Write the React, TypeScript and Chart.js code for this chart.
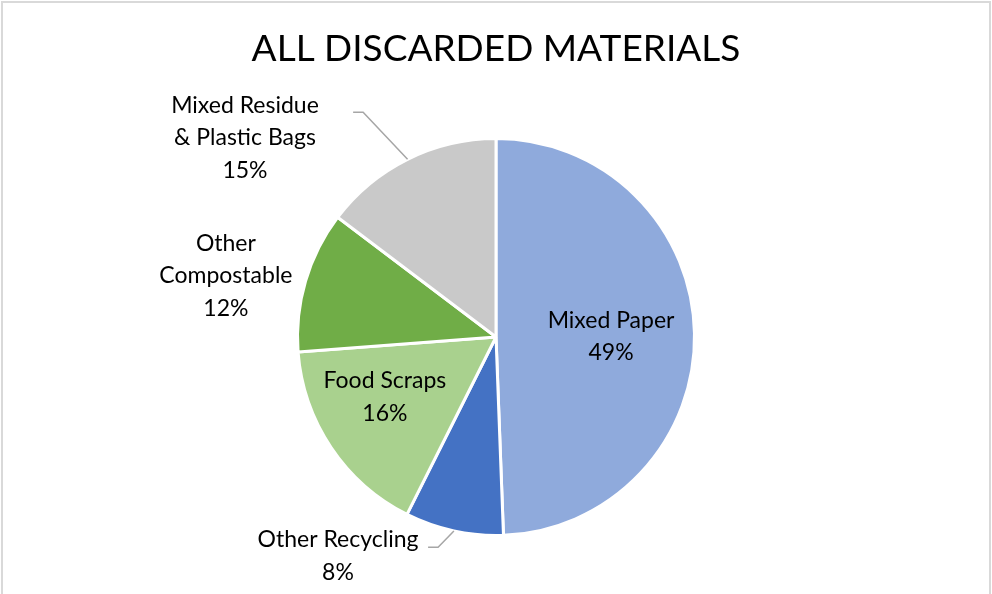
import React, { useEffect, useRef } from "react";
import { Chart, registerables } from "chart.js";

Chart.register(...registerables);

const TITLE = "ALL DISCARDED MATERIALS";
const categories = [
  "Mixed Paper",
  "Other Recycling",
  "Food Scraps",
  "Other Compostable",
  "Mixed Residue & Plastic Bags",
];
const labelLines = [
  ["Mixed Paper"],
  ["Other Recycling"],
  ["Food Scraps"],
  ["Other", "Compostable"],
  ["Mixed Residue", "& Plastic Bags"],
];
const shares = [49.4, 8.0, 16.4, 11.5, 14.7];
const colors = ["#8FAADC", "#4472C4", "#A9D18E", "#70AD47", "#C9C9C9"];

// label block centre: screen angle (deg) and distance (multiples of radius)
const labelAngle = [-0.25, 125.8, 151.6, 192.8, 218.4];
const labelDist = [0.584, 1.371, 0.641, 1.406, 1.626];
// leader elbows (null = none)
const leaderAngle = [null, 105.4, null, null, 239.4];
const leaderDist = [null, 1.107, null, null, 1.325];

const FONT = "Lato, 'Noto Sans', sans-serif";

const labelPlugin = {
  id: "pieLabels",
  beforeDraw(chart: any) {
    const ctx = chart.ctx;
    ctx.save();
    ctx.fillStyle = "#ffffff";
    ctx.fillRect(0, 0, chart.width, chart.height);
    ctx.strokeStyle = "#D9D9D9";
    ctx.lineWidth = 2;
    ctx.strokeRect(2, 2, chart.width - 4, chart.height + 50);
    ctx.restore();
  },
  afterDraw(chart: any) {
    const ctx = chart.ctx;
    const meta = chart.getDatasetMeta(0);
    const arcs = meta.data;
    if (!arcs.length) return;
    const cx = arcs[0].x;
    const cy = arcs[0].y;
    const r = arcs[0].outerRadius - 1.5;
    ctx.save();
    // title
    ctx.fillStyle = "#000000";
    ctx.font = `400 37px ${FONT}`;
    ctx.textAlign = "center";
    ctx.textBaseline = "middle";
    ctx.fillText(TITLE, chart.width / 2, 49);

    ctx.font = `400 23px ${FONT}`;
    const lh = 32.5;
    arcs.forEach((arc: any, i: number) => {
      const total = shares.reduce((a, b) => a + b, 0);
      const pct = Math.round((shares[i] / total) * 100) + "%";
      const lines = [...labelLines[i], pct];
      const a = (labelAngle[i] * Math.PI) / 180;
      const bx = cx + Math.cos(a) * r * labelDist[i];
      const by = cy + Math.sin(a) * r * labelDist[i];
      lines.forEach((t, k) => {
        const y = by + (k - (lines.length - 1) / 2) * lh;
        ctx.fillText(t, bx, y);
      });
      if (leaderAngle[i] !== null) {
        const mid = (arc.startAngle + arc.endAngle) / 2;
        const sx = cx + Math.cos(mid) * (r + 1.5);
        const sy = cy + Math.sin(mid) * (r + 1.5);
        const ea = ((leaderAngle[i] as number) * Math.PI) / 180;
        const ex = cx + Math.cos(ea) * r * (leaderDist[i] as number);
        const ey = cy + Math.sin(ea) * r * (leaderDist[i] as number);
        ctx.strokeStyle = "#A6A6A6";
        ctx.lineWidth = 1.5;
        ctx.beginPath();
        ctx.moveTo(sx, sy);
        ctx.lineTo(ex, ey);
        ctx.lineTo(ex - 10, ey);
        ctx.stroke();
      }
    });
    ctx.restore();
  },
};

export default function App() {
  const ref = useRef<HTMLCanvasElement | null>(null);
  useEffect(() => {
    document.body.style.margin = "0";
    if (!ref.current) return;
    const chart = new Chart(ref.current, {
      type: "pie",
      data: {
        labels: categories,
        datasets: [
          {
            data: shares,
            backgroundColor: colors,
            borderColor: "#ffffff",
            borderWidth: 3,
          },
        ],
      },
      options: {
        responsive: false,
        animation: false,
        layout: { padding: { top: 137, bottom: 57, left: 200, right: 200 } },
        plugins: {
          legend: { display: false },
          tooltip: { enabled: false },
          title: { display: false },
        },
      },
      plugins: [labelPlugin],
    });
    return () => chart.destroy();
  }, []);
  return (
    <div style={{ width: 992, height: 594, position: "relative" }}>
      <canvas ref={ref} width={992} height={594} />
    </div>
  );
}
